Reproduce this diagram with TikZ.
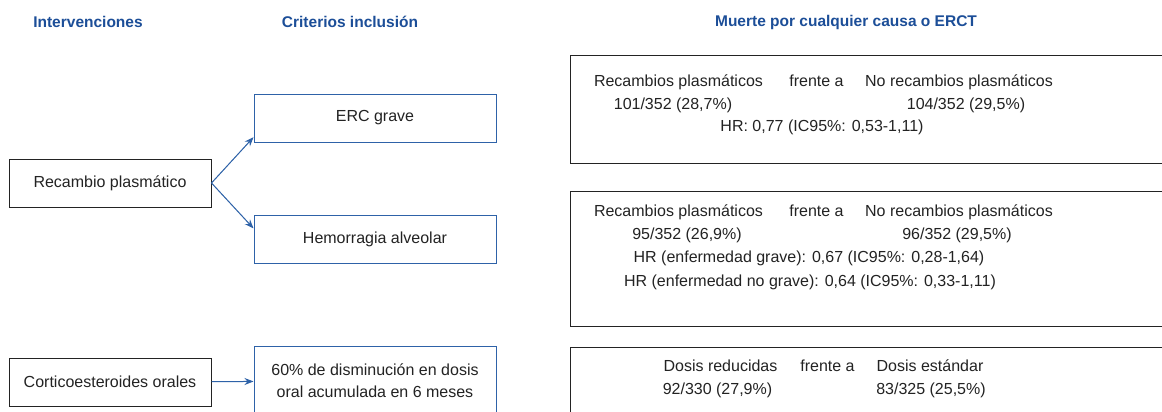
\documentclass[tikz,border=0pt]{standalone}
\usepackage{fontspec}
\setmainfont{Liberation Sans}
\usetikzlibrary{positioning,arrows.meta}
\definecolor{hdrblue}{RGB}{28,78,152}
\definecolor{boxblue}{RGB}{46,98,168}
\definecolor{ink}{RGB}{35,35,35}

\begin{document}
\begin{tikzpicture}[x=1pt, y=-1pt, >={Stealth[length=9pt, width=7pt]},
    every node/.style={font=\fontsize{16}{19}\selectfont, text=ink},
    header/.style={font=\fontsize{15.5}{18}\selectfont\bfseries, text=hdrblue},
    interv/.style={draw=ink, line width=1pt, rectangle, minimum width=202pt, minimum height=48pt},
    criterio/.style={draw=boxblue, line width=1pt, rectangle, minimum width=242pt, minimum height=48pt, align=center},
    resultado/.style={draw=ink, line width=1pt, rectangle, anchor=north west, minimum width=620pt},
    dato/.style={text height=12pt, text depth=3.5pt, inner sep=0pt},
    flecha/.style={->, draw=boxblue, fill=boxblue, line width=1pt}]
    \path[use as bounding box, fill=white] (0,0) rectangle (1162,412);

    % Headers
    \node[header] (hint) at (88,22) {Intervenciones};
    \node[header] (hcrit) at (350,22) {Criterios inclusión};
    \node[header] (hmuerte) at (846,22) {Muerte por cualquier causa o ERCT};

    % Interventions and inclusion criteria
    \node[interv] (recambio) at (110,183) {Recambio plasmático};
    \node[criterio] (erc) at (375,118) {ERC grave};
    \node[criterio] (hemorragia) at (375,239) {Hemorragia alveolar};
    \node[interv] (cortico) at (110,382) {Corticoesteroides orales};
    \node[criterio, minimum height=70pt, font=\fontsize{16}{22}\selectfont] (dosis) at (375,381) {60\% de disminución en dosis\\oral acumulada en 6 meses};

    % Arrows
    \draw[flecha] (recambio.east) -- (erc.189);
    \draw[flecha] (recambio.east) -- (hemorragia.175);
    \draw[flecha] (cortico) -- (dosis);

    % Outcome boxes
    \node[resultado, minimum height=108pt] (res1) at (570,55) {};
    \node[resultado, minimum height=135pt] (res2) at (570,191) {};
    \node[resultado, minimum height=80pt] (res3) at (570,347) {};

    % Box 1
    \node[dato] (r1a) at (678.5,82) {Recambios plasmáticos};
    \node[dato] (r1b) at (816.5,82) {frente a};
    \node[dato] (r1c) at (959,82) {No recambios plasmáticos};
    \node[dato] (r1d) at (673,105) {101/352 (28,7\%)};
    \node[dato] (r1e) at (966,105) {104/352 (29,5\%)};
    \node[dato] (r1f) at (822,127) {HR: 0,77 (IC95\%: 0,53-1,11)};

    % Box 2
    \node[dato] (r2a) at (678.5,212) {Recambios plasmáticos};
    \node[dato] (r2b) at (816.5,212) {frente a};
    \node[dato] (r2c) at (959,212) {No recambios plasmáticos};
    \node[dato] (r2d) at (687,235) {95/352 (26,9\%)};
    \node[dato] (r2e) at (957,235) {96/352 (29,5\%)};
    \node[dato] (r2f) at (809,258) {HR (enfermedad grave): 0,67 (IC95\%: 0,28-1,64)};
    \node[dato] (r2g) at (810,282) {HR (enfermedad no grave): 0,64 (IC95\%: 0,33-1,11)};

    % Box 3
    \node[dato] (r3a) at (720.5,367) {Dosis reducidas};
    \node[dato] (r3b) at (827.5,367) {frente a};
    \node[dato] (r3c) at (930,367) {Dosis estándar};
    \node[dato] (r3d) at (717.5,390) {92/330 (27,9\%)};
    \node[dato] (r3e) at (931,390) {83/325 (25,5\%)};
\end{tikzpicture}
\end{document}
